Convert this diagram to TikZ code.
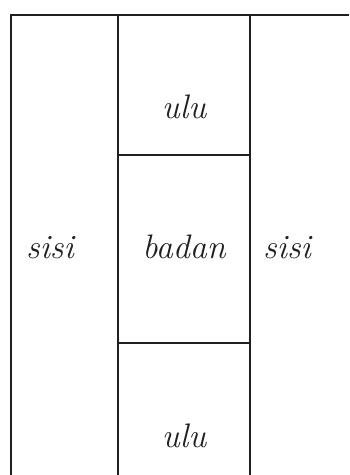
\documentclass[tikz,border=0pt]{standalone}
\usepackage{fontspec}
\definecolor{ink}{HTML}{231F20}
\begin{document}
\begin{tikzpicture}[x=1pt,y=-1pt,
  rule/.style={draw=ink,line width=2pt},
  word/.style={anchor=base,inner sep=0pt,text=ink,font=\fontsize{34}{40}\selectfont\itshape}]
\useasboundingbox (0,0) rectangle (349,475);
% frame and column rules (the right and bottom sides run off the page)
\coordinate (tl) at (11.3,15);
\coordinate (tr) at (349,15);
\coordinate (bl) at (11.3,475);
\coordinate (c1t) at (118.3,15);
\coordinate (c1b) at (118.3,475);
\coordinate (c2t) at (249.7,15);
\coordinate (c2b) at (249.7,475);
\coordinate (h1l) at (118.3,154.7);
\coordinate (h1r) at (249.7,154.7);
\coordinate (h2l) at (118.3,343);
\coordinate (h2r) at (249.7,343);
\draw[rule] (bl) -- (tl) -- (tr);
\draw[rule] (c1t) -- (c1b);
\draw[rule] (c2t) -- (c2b);
\draw[rule] (h1l) -- (h1r);
\draw[rule] (h2l) -- (h2r);
% cell labels
\node[word] (top) at (184,118) {ulu};
\node[word] (left) at (50,258) {sisi};
\node[word] (mid) at (184,258) {badan};
\node[word] (right) at (287,258) {sisi};
\node[word] (bottom) at (184,447) {ulu};
\end{tikzpicture}
\end{document}
